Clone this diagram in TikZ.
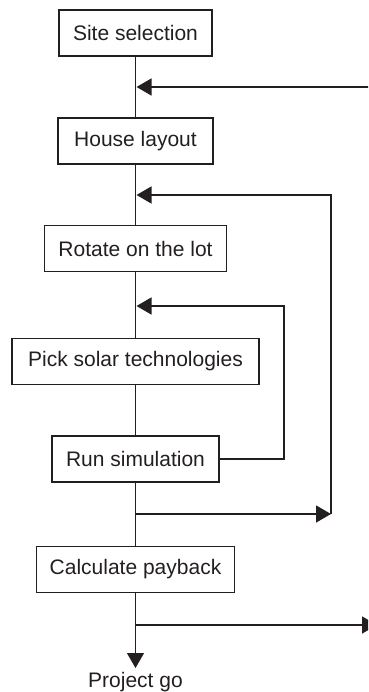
\documentclass[tikz,border=0pt]{standalone}
\usepackage{fontspec}
\setmainfont{Liberation Sans}
\usepackage{xcolor}
\usetikzlibrary{arrows.meta}
\definecolor{ink}{HTML}{231F20}
\tikzset{
  box/.style={draw=ink, line width=1.3pt, rectangle, minimum height=46pt, inner sep=0pt, text=ink, font=\fontsize{21}{25}\selectfont},
  wire/.style={draw=ink, line width=1.4pt},
  arr/.style={wire, -{Triangle[length=15pt,width=17pt]}},
  lab/.style={text=ink, inner sep=0pt, font=\fontsize{21}{25}\selectfont},
}

\begin{document}
\begin{tikzpicture}[x=1pt,y=-1pt]
  \useasboundingbox (0,0) rectangle (368,692);
  \clip (0,0) rectangle (368,692);
  % steps
  \node[box, minimum width=153pt] (site) at (135.5,33) {Site selection};
  \node[box, minimum width=155pt] (house) at (135.5,141) {House layout};
  \node[box, minimum width=182pt] (rotate) at (135.5,248.5) {Rotate on the lot};
  \node[box, minimum width=247pt] (pick) at (135.5,361.5) {Pick solar technologies};
  \node[box, minimum width=167pt] (run) at (135.5,459) {Run simulation};
  \node[box, minimum width=198pt] (calc) at (135.5,569.5) {Calculate payback};
  \node[lab, anchor=base] (go) at (135.5,687) {Project go};
  % loop points
  \coordinate (inA) at (136.5,87);
  \coordinate (edgeA) at (370,87);
  \coordinate (inB) at (136.5,195);
  \coordinate (cornB) at (331,195);
  \coordinate (outB) at (135.5,514);
  \coordinate (tipB) at (331,514);
  \coordinate (inC) at (136.5,306);
  \coordinate (cornC) at (284,306);
  \coordinate (outD) at (135.5,625);
  \coordinate (edgeD) at (377,625);
  \coordinate (tipGo) at (135.5,668);
  % main line
  \draw[wire] (site) -- (house);
  \draw[wire] (house) -- (rotate);
  \draw[wire] (rotate) -- (pick);
  \draw[wire] (pick) -- (run);
  \draw[wire] (run) -- (calc);
  \draw[arr] (calc) -- (tipGo);
  % feedback
  \draw[arr] (edgeA) -- (inA);
  \draw[arr] (outB) -- (tipB);
  \draw[arr] (tipB) -- (cornB) -- (inB);
  \draw[arr] (run.east) -| (cornC) -- (inC);
  \draw[arr] (outD) -- (edgeD);
\end{tikzpicture}
\end{document}
